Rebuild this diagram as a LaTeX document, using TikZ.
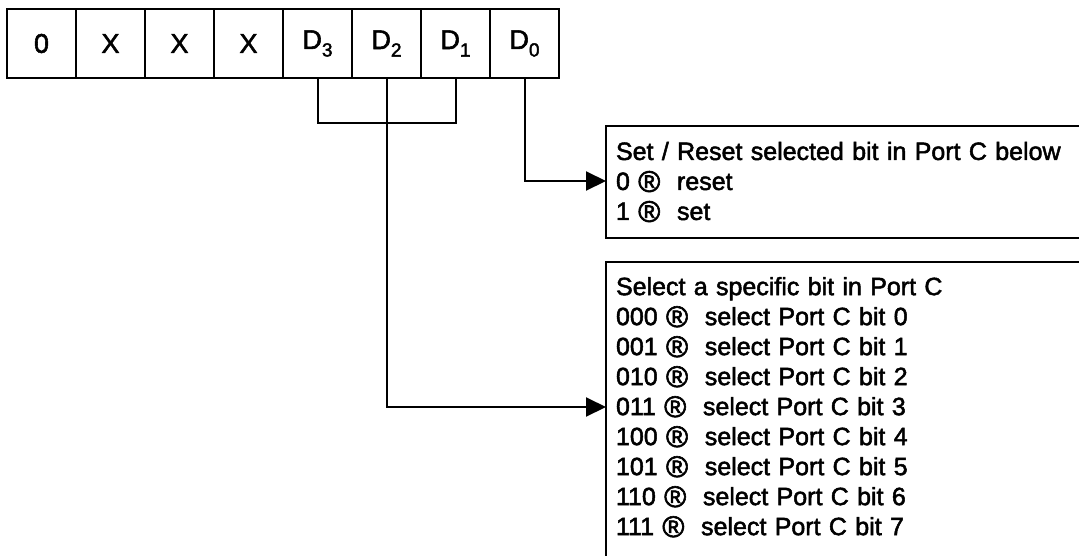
\documentclass[tikz,border=0pt]{standalone}
\usepackage{fontspec}
\setmainfont{Liberation Sans}[FakeBold=2]
\usetikzlibrary{positioning,arrows.meta}

% subscript and arrow sign as printed in the scan
\newcommand{\bitsub}[1]{\raisebox{-0.28em}{\fontsize{19}{20}\selectfont #1}}
\newcommand{\regsym}{\raisebox{-2pt}{\fontsize{30}{30}\selectfont ®}}

\begin{document}
\begin{tikzpicture}[
            x=1pt, y=-1pt,
            node distance=0pt,
            line width=2pt,
            bitbox/.style={
                draw,
                outer sep=0pt,
                minimum width=69pt,
                minimum height=69pt,
                font=\fontsize{27}{30}\selectfont
            },
            infobox/.style={
                draw,
                outer sep=0pt,
                anchor=north west,
                text width=480pt,
                inner xsep=10pt,
                inner ysep=15pt,
                align=left,
                font=\fontsize{25}{30}\selectfont
            },
            arrow/.style={-{Triangle[length=20pt,width=19pt]}}
        ]
        \clip (0,0) rectangle (1079,555);

        \node[bitbox, anchor=north west] (b7) at (7,9) {0};
        \node[bitbox, right=of b7] (b6) {X};
        \node[bitbox, right=of b6] (b5) {X};
        \node[bitbox, right=of b5] (b4) {X};
        \node[bitbox, right=of b4] (d3) {D\bitsub{3}};
        \node[bitbox, right=of d3] (d2) {D\bitsub{2}};
        \node[bitbox, right=of d2] (d1) {D\bitsub{1}};
        \node[bitbox, right=of d1] (d0) {D\bitsub{0}};

        \node[infobox, minimum height=112pt, below right=48pt and 47pt of d0.south east, anchor=north west] (setbox)
            {Set / Reset selected bit in Port C below\\
             0 \regsym\ \ reset\\
             1 \regsym\ \ set};
        \node[infobox, text depth=280pt, below=24pt of setbox.south west, anchor=north west] (selbox)
            {Select a specific bit in Port C\\
             000 \regsym\ \ select Port C bit 0\\
             001 \regsym\ \ select Port C bit 1\\
             010 \regsym\ \ select Port C bit 2\\
             011 \regsym\ \ select Port C bit 3\\
             100 \regsym\ \ select Port C bit 4\\
             101 \regsym\ \ select Port C bit 5\\
             110 \regsym\ \ select Port C bit 6\\
             111 \regsym\ \ select Port C bit 7};

        \draw (d3.south) -- ++(0,45) -| (d1.south);
        \draw[arrow] (d0.south) |- ([yshift=-55pt]setbox.north west);
        \draw[arrow] (d2.south) |- ([yshift=-145pt]selbox.north west);
        \end{tikzpicture}
\end{document}
